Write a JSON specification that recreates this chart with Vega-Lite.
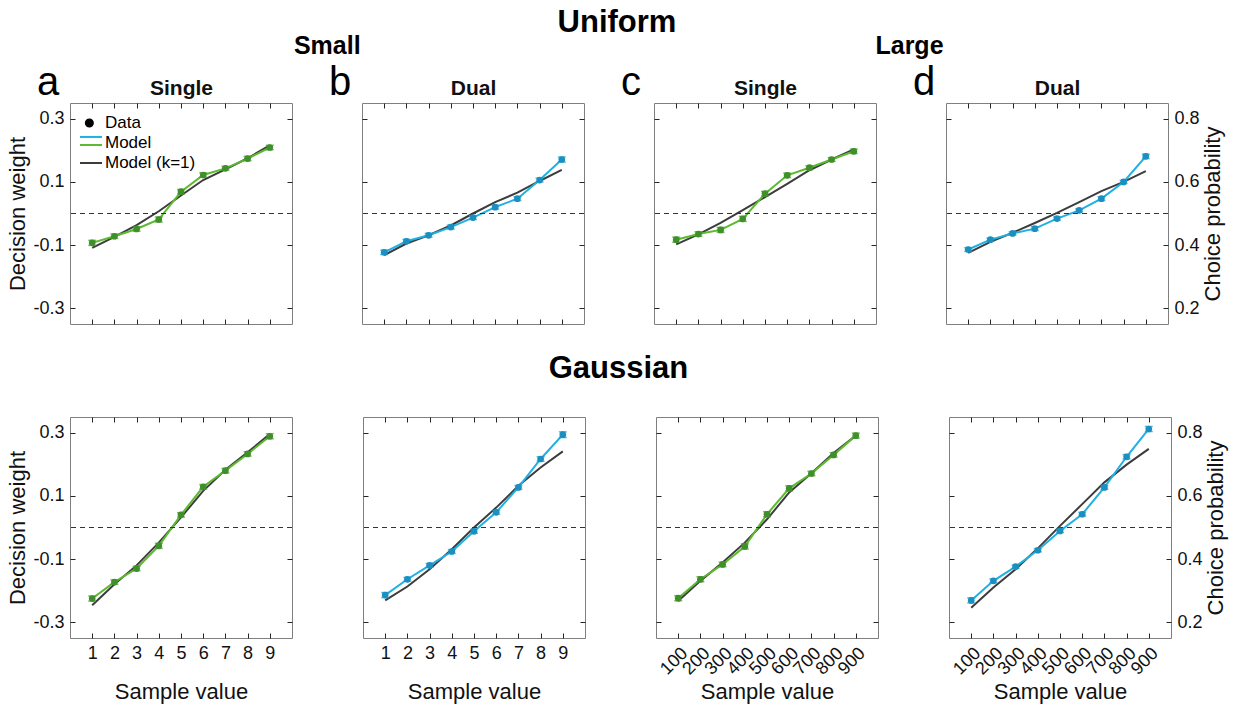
{
"$schema": "https://vega.github.io/schema/vega-lite/v6.json",
"padding": {"left": 6, "top": 7, "right": 5, "bottom": 5},
"background": "white",
"data": {"values": [
{"p":"a","x":1,"w":-0.093,"se":0.008,"k":-0.109},
{"p":"a","x":2,"w":-0.072,"se":0.007,"k":-0.074},
{"p":"a","x":3,"w":-0.049,"se":0.007,"k":-0.037},
{"p":"a","x":4,"w":-0.019,"se":0.008,"k":0.007},
{"p":"a","x":5,"w":0.069,"se":0.007,"k":0.057},
{"p":"a","x":6,"w":0.122,"se":0.007,"k":0.106},
{"p":"a","x":7,"w":0.143,"se":0.006,"k":0.140},
{"p":"a","x":8,"w":0.174,"se":0.007,"k":0.175},
{"p":"a","x":9,"w":0.209,"se":0.007,"k":0.216},
{"p":"b","x":1,"w":-0.123,"se":0.007,"k":-0.132},
{"p":"b","x":2,"w":-0.088,"se":0.006,"k":-0.095},
{"p":"b","x":3,"w":-0.069,"se":0.006,"k":-0.069},
{"p":"b","x":4,"w":-0.043,"se":0.006,"k":-0.038},
{"p":"b","x":5,"w":-0.013,"se":0.006,"k":0.000},
{"p":"b","x":6,"w":0.020,"se":0.006,"k":0.036},
{"p":"b","x":7,"w":0.047,"se":0.006,"k":0.066},
{"p":"b","x":8,"w":0.106,"se":0.006,"k":0.103},
{"p":"b","x":9,"w":0.171,"se":0.008,"k":0.138},
{"p":"c","x":100,"w":-0.083,"se":0.008,"k":-0.098},
{"p":"c","x":200,"w":-0.065,"se":0.007,"k":-0.066},
{"p":"c","x":300,"w":-0.052,"se":0.008,"k":-0.030},
{"p":"c","x":400,"w":-0.017,"se":0.008,"k":0.011},
{"p":"c","x":500,"w":0.063,"se":0.007,"k":0.052},
{"p":"c","x":600,"w":0.121,"se":0.007,"k":0.094},
{"p":"c","x":700,"w":0.145,"se":0.006,"k":0.137},
{"p":"c","x":800,"w":0.171,"se":0.006,"k":0.171},
{"p":"c","x":900,"w":0.197,"se":0.007,"k":0.203},
{"p":"d","x":100,"w":-0.114,"se":0.006,"k":-0.125},
{"p":"d","x":200,"w":-0.083,"se":0.005,"k":-0.090},
{"p":"d","x":300,"w":-0.063,"se":0.005,"k":-0.061},
{"p":"d","x":400,"w":-0.048,"se":0.006,"k":-0.030},
{"p":"d","x":500,"w":-0.016,"se":0.005,"k":0.002},
{"p":"d","x":600,"w":0.010,"se":0.005,"k":0.036},
{"p":"d","x":700,"w":0.047,"se":0.006,"k":0.071},
{"p":"d","x":800,"w":0.100,"se":0.005,"k":0.100},
{"p":"d","x":900,"w":0.181,"se":0.007,"k":0.134},
{"p":"e","x":1,"w":-0.225,"se":0.008,"k":-0.246},
{"p":"e","x":2,"w":-0.173,"se":0.007,"k":-0.180},
{"p":"e","x":3,"w":-0.130,"se":0.007,"k":-0.120},
{"p":"e","x":4,"w":-0.058,"se":0.008,"k":-0.048},
{"p":"e","x":5,"w":0.040,"se":0.007,"k":0.032},
{"p":"e","x":6,"w":0.129,"se":0.007,"k":0.116},
{"p":"e","x":7,"w":0.180,"se":0.007,"k":0.183},
{"p":"e","x":8,"w":0.233,"se":0.007,"k":0.238},
{"p":"e","x":9,"w":0.289,"se":0.008,"k":0.296},
{"p":"f","x":1,"w":-0.214,"se":0.008,"k":-0.231},
{"p":"f","x":2,"w":-0.164,"se":0.006,"k":-0.187},
{"p":"f","x":3,"w":-0.120,"se":0.006,"k":-0.132},
{"p":"f","x":4,"w":-0.076,"se":0.006,"k":-0.069},
{"p":"f","x":5,"w":-0.012,"se":0.006,"k":0.000},
{"p":"f","x":6,"w":0.048,"se":0.006,"k":0.063},
{"p":"f","x":7,"w":0.127,"se":0.006,"k":0.132},
{"p":"f","x":8,"w":0.217,"se":0.007,"k":0.190},
{"p":"f","x":9,"w":0.294,"se":0.009,"k":0.241},
{"p":"g","x":100,"w":-0.224,"se":0.008,"k":-0.233},
{"p":"g","x":200,"w":-0.164,"se":0.008,"k":-0.169},
{"p":"g","x":300,"w":-0.117,"se":0.007,"k":-0.111},
{"p":"g","x":400,"w":-0.060,"se":0.008,"k":-0.048},
{"p":"g","x":500,"w":0.042,"se":0.008,"k":0.026},
{"p":"g","x":600,"w":0.124,"se":0.008,"k":0.111},
{"p":"g","x":700,"w":0.171,"se":0.007,"k":0.172},
{"p":"g","x":800,"w":0.230,"se":0.007,"k":0.236},
{"p":"g","x":900,"w":0.291,"se":0.008,"k":0.291},
{"p":"h","x":100,"w":-0.231,"se":0.008,"k":-0.254},
{"p":"h","x":200,"w":-0.169,"se":0.006,"k":-0.190},
{"p":"h","x":300,"w":-0.124,"se":0.005,"k":-0.132},
{"p":"h","x":400,"w":-0.072,"se":0.005,"k":-0.066},
{"p":"h","x":500,"w":-0.011,"se":0.005,"k":0.005},
{"p":"h","x":600,"w":0.042,"se":0.006,"k":0.074},
{"p":"h","x":700,"w":0.127,"se":0.006,"k":0.143},
{"p":"h","x":800,"w":0.224,"se":0.007,"k":0.199},
{"p":"h","x":900,"w":0.312,"se":0.008,"k":0.249}
]},
"config": {
  "font": "Liberation Sans",
  "view": {"stroke": "#7f7f7f", "strokeWidth": 1},
  "axis": {"grid": false, "domain": false, "tickColor": "#262626", "tickSize": -5, "tickWidth": 1, "labelFont": "Liberation Sans", "labelFontSize": 18, "labelColor": "#111111", "labelPadding": 11, "labelOverlap": false, "titleFont": "Liberation Sans", "titleFontSize": 22, "titleFontWeight": "normal", "titleColor": "#111111", "titlePadding": 3},
  "axisBottom": {"labelPadding": 11},
  "title": {"font": "Liberation Sans", "color": "#000000"}
},
"spacing": 27,
"resolve": {"legend": {"fill": "independent", "stroke": "independent", "shape": "independent", "strokeDash": "independent"}},
"vconcat": [
{
 "title": {"text": "Uniform", "fontSize": 31, "fontWeight": "bold", "anchor": "middle", "frame": "bounds", "offset": -5, "dx": 2},
 "spacing": 35,
 "resolve": {"legend": {"fill": "independent", "stroke": "independent", "shape": "independent", "strokeDash": "independent"}},
 "hconcat": [
 {
  "title": {"text": "Small", "fontSize": 25, "fontWeight": "bold", "anchor": "middle", "frame": "bounds", "offset": 3, "dx": 31.5},
  "spacing": 35,
  "resolve": {"legend": {"fill": "independent", "stroke": "independent", "shape": "independent", "strokeDash": "independent"}},
  "hconcat": [
  {
   "width": 222, "height": 221,
   "title": {"text": "a", "fontSize": 40, "fontWeight": "normal", "anchor": "start", "frame": "group", "dx": -33, "dy": 25, "offset": 0},
   "transform": [{"filter": "datum.p === 'a'"}],
   "layer": [
    {"mark": {"type": "line", "color": "#3c3c3c", "strokeWidth": 2},
     "encoding": {
      "x": {"field": "x", "type": "quantitative", "scale": {"domain": [0, 10], "nice": false}, "axis": {"orient": "bottom", "values": [1,2,3,4,5,6,7,8,9], "labels": false, "title": null}},
      "y": {"field": "k", "type": "quantitative", "scale": {"domain": [-0.35, 0.35], "nice": false}, "axis": {"orient": "left", "values": [-0.3,-0.1,0.1,0.3], "labelExpr": "datum.value < 0 ? '-' + format(-datum.value, '.1f') : format(datum.value, '.1f')", "title": "Decision weight"}}}},
    {"mark": {"type": "line", "color": "#5bba2e", "strokeWidth": 2},
     "encoding": {
      "x": {"field": "x", "type": "quantitative", "axis": {"orient": "top", "values": [1,2,3,4,5,6,7,8,9], "labels": false, "title": "Single", "titleFontWeight": "bold", "titleFontSize": 21, "titlePadding": 4}},
      "y": {"field": "w", "type": "quantitative", "axis": {"orient": "right", "values": [-0.3,-0.1,0.1,0.3], "labels": false, "title": null}}}},
    {"mark": {"type": "rule", "color": "#333333", "strokeDash": [5, 4], "strokeWidth": 1}, "encoding": {"y": {"datum": 0, "type": "quantitative", "axis": null}}},
    {"mark": {"type": "errorbar", "color": "#45a02a", "ticks": {"size": 8}, "thickness": 1.5},
     "encoding": {"x": {"field": "x", "type": "quantitative", "axis": null}, "y": {"field": "w", "type": "quantitative", "axis": null}, "yError": {"field": "se"}}},
    {"mark": {"type": "point", "filled": true, "size": 45, "color": "#3f8f2a", "opacity": 1},
     "encoding": {"x": {"field": "x", "type": "quantitative", "axis": null}, "y": {"field": "w", "type": "quantitative", "axis": null}}},
    {"data": {"values": [{"item": "Data"}, {"item": "Model"}, {"item": "Model (k=1)"}]},
     "mark": {"type": "point", "filled": true, "opacity": 0},
     "encoding": {
      "fill": {"field": "item", "type": "nominal", "scale": {"domain": ["Data", "Model", "Model (k=1)"], "range": ["#000000", "#1fb1e3", "#3c3c3c"]},
        "legend": {"title": null, "orient": "none", "legendX": 9, "legendY": 8, "symbolOpacity": 1, "symbolSize": 484, "symbolStrokeWidth": 2, "labelFont": "Liberation Sans", "labelFontSize": 17, "labelColor": "#000000", "labelOffset": 2, "rowPadding": 0, "padding": 0}},
      "stroke": {"field": "item", "type": "nominal", "scale": {"domain": ["Data", "Model", "Model (k=1)"], "range": ["#000000", "#1fb1e3", "#3c3c3c"]},
        "legend": {"title": null, "orient": "none", "legendX": 9, "legendY": 8, "symbolOpacity": 1, "symbolSize": 484, "symbolStrokeWidth": 2, "labelFont": "Liberation Sans", "labelFontSize": 17, "labelColor": "#000000", "labelOffset": 2, "rowPadding": 0, "padding": 0}},
      "shape": {"field": "item", "type": "nominal", "scale": {"domain": ["Data", "Model", "Model (k=1)"], "range": ["M-0.47,0A0.32,0.32 0 1,0 0.17,0A0.32,0.32 0 1,0 -0.47,0Z", "M-1,-0.55H1", "M-1,0H1"]},
        "legend": {"title": null, "orient": "none", "legendX": 9, "legendY": 8, "symbolOpacity": 1, "symbolSize": 484, "symbolStrokeWidth": 2, "labelFont": "Liberation Sans", "labelFontSize": 17, "labelColor": "#000000", "labelOffset": 2, "rowPadding": 0, "padding": 0}}}},
    {"data": {"values": [{"item2": "Model"}]},
     "mark": {"type": "line", "color": "#5bba2e", "opacity": 0},
     "encoding": {
      "strokeDash": {"field": "item2", "type": "nominal", "scale": {"domain": ["Model"], "range": [[1, 0]]},
        "legend": {"title": null, "orient": "none", "legendX": 9, "legendY": 30, "symbolOpacity": 1, "symbolSize": 484, "symbolStrokeWidth": 2, "symbolType": "M-1,0H1", "labelFont": "Liberation Sans", "labelFontSize": 17, "labelOpacity": 0, "labelOffset": 2, "rowPadding": 0, "padding": 0}}}}
   ],
   "resolve": {"axis": {"x": "independent", "y": "independent"}}
  },
  {
   "width": 222, "height": 221,
   "title": {"text": "b", "fontSize": 40, "fontWeight": "normal", "anchor": "start", "frame": "group", "dx": -33, "dy": 25, "offset": 0},
   "transform": [{"filter": "datum.p === 'b'"}],
   "layer": [
    {"mark": {"type": "line", "color": "#3c3c3c", "strokeWidth": 2},
     "encoding": {
      "x": {"field": "x", "type": "quantitative", "scale": {"domain": [0, 10], "nice": false}, "axis": {"orient": "bottom", "values": [1,2,3,4,5,6,7,8,9], "labels": false, "title": null}},
      "y": {"field": "k", "type": "quantitative", "scale": {"domain": [-0.35, 0.35], "nice": false}, "axis": {"orient": "left", "values": [-0.3,-0.1,0.1,0.3], "labels": false, "title": null}}}},
    {"mark": {"type": "line", "color": "#1fb1e3", "strokeWidth": 2},
     "encoding": {
      "x": {"field": "x", "type": "quantitative", "axis": {"orient": "top", "values": [1,2,3,4,5,6,7,8,9], "labels": false, "title": "Dual", "titleFontWeight": "bold", "titleFontSize": 21, "titlePadding": 4}},
      "y": {"field": "w", "type": "quantitative", "axis": {"orient": "right", "values": [-0.3,-0.1,0.1,0.3], "labels": false, "title": null}}}},
    {"mark": {"type": "rule", "color": "#333333", "strokeDash": [5, 4], "strokeWidth": 1}, "encoding": {"y": {"datum": 0, "type": "quantitative", "axis": null}}},
    {"mark": {"type": "errorbar", "color": "#1a9fd0", "ticks": {"size": 8}, "thickness": 1.5},
     "encoding": {"x": {"field": "x", "type": "quantitative", "axis": null}, "y": {"field": "w", "type": "quantitative", "axis": null}, "yError": {"field": "se"}}},
    {"mark": {"type": "point", "filled": true, "size": 45, "color": "#1a8fc0", "opacity": 1},
     "encoding": {"x": {"field": "x", "type": "quantitative", "axis": null}, "y": {"field": "w", "type": "quantitative", "axis": null}}}
   ],
   "resolve": {"axis": {"x": "independent", "y": "independent"}}
  }
  ]
 },
 {
  "title": {"text": "Large", "fontSize": 25, "fontWeight": "bold", "anchor": "middle", "frame": "bounds", "offset": 3, "dx": -12.5},
  "spacing": 35,
  "hconcat": [
  {
   "width": 222, "height": 221,
   "title": {"text": "c", "fontSize": 40, "fontWeight": "normal", "anchor": "start", "frame": "group", "dx": -33, "dy": 25, "offset": 0},
   "transform": [{"filter": "datum.p === 'c'"}],
   "layer": [
    {"mark": {"type": "line", "color": "#3c3c3c", "strokeWidth": 2},
     "encoding": {
      "x": {"field": "x", "type": "quantitative", "scale": {"domain": [0, 1000], "nice": false}, "axis": {"orient": "bottom", "values": [100,200,300,400,500,600,700,800,900], "labels": false, "title": null}},
      "y": {"field": "k", "type": "quantitative", "scale": {"domain": [-0.35, 0.35], "nice": false}, "axis": {"orient": "left", "values": [-0.3,-0.1,0.1,0.3], "labels": false, "title": null}}}},
    {"mark": {"type": "line", "color": "#5bba2e", "strokeWidth": 2},
     "encoding": {
      "x": {"field": "x", "type": "quantitative", "axis": {"orient": "top", "values": [100,200,300,400,500,600,700,800,900], "labels": false, "title": "Single", "titleFontWeight": "bold", "titleFontSize": 21, "titlePadding": 4}},
      "y": {"field": "w", "type": "quantitative", "axis": {"orient": "right", "values": [-0.3,-0.1,0.1,0.3], "labels": false, "title": null}}}},
    {"mark": {"type": "rule", "color": "#333333", "strokeDash": [5, 4], "strokeWidth": 1}, "encoding": {"y": {"datum": 0, "type": "quantitative", "axis": null}}},
    {"mark": {"type": "errorbar", "color": "#45a02a", "ticks": {"size": 8}, "thickness": 1.5},
     "encoding": {"x": {"field": "x", "type": "quantitative", "axis": null}, "y": {"field": "w", "type": "quantitative", "axis": null}, "yError": {"field": "se"}}},
    {"mark": {"type": "point", "filled": true, "size": 45, "color": "#3f8f2a", "opacity": 1},
     "encoding": {"x": {"field": "x", "type": "quantitative", "axis": null}, "y": {"field": "w", "type": "quantitative", "axis": null}}}
   ],
   "resolve": {"axis": {"x": "independent", "y": "independent"}}
  },
  {
   "width": 222, "height": 221,
   "title": {"text": "d", "fontSize": 40, "fontWeight": "normal", "anchor": "start", "frame": "group", "dx": -33, "dy": 25, "offset": 0},
   "transform": [{"filter": "datum.p === 'd'"}],
   "layer": [
    {"mark": {"type": "line", "color": "#3c3c3c", "strokeWidth": 2},
     "encoding": {
      "x": {"field": "x", "type": "quantitative", "scale": {"domain": [0, 1000], "nice": false}, "axis": {"orient": "bottom", "values": [100,200,300,400,500,600,700,800,900], "labels": false, "title": null}},
      "y": {"field": "k", "type": "quantitative", "scale": {"domain": [-0.35, 0.35], "nice": false}, "axis": {"orient": "left", "values": [-0.3,-0.1,0.1,0.3], "labels": false, "title": null}}}},
    {"mark": {"type": "line", "color": "#1fb1e3", "strokeWidth": 2},
     "encoding": {
      "x": {"field": "x", "type": "quantitative", "axis": {"orient": "top", "values": [100,200,300,400,500,600,700,800,900], "labels": false, "title": "Dual", "titleFontWeight": "bold", "titleFontSize": 21, "titlePadding": 4}},
      "y": {"field": "w", "type": "quantitative", "axis": {"orient": "right", "values": [-0.3,-0.1,0.1,0.3], "labelExpr": "format(datum.value + 0.5, '.1f')", "title": "Choice probability", "titleAngle": 270, "titleBaseline": "top"}}}},
    {"mark": {"type": "rule", "color": "#333333", "strokeDash": [5, 4], "strokeWidth": 1}, "encoding": {"y": {"datum": 0, "type": "quantitative", "axis": null}}},
    {"mark": {"type": "errorbar", "color": "#1a9fd0", "ticks": {"size": 8}, "thickness": 1.5},
     "encoding": {"x": {"field": "x", "type": "quantitative", "axis": null}, "y": {"field": "w", "type": "quantitative", "axis": null}, "yError": {"field": "se"}}},
    {"mark": {"type": "point", "filled": true, "size": 45, "color": "#1a8fc0", "opacity": 1},
     "encoding": {"x": {"field": "x", "type": "quantitative", "axis": null}, "y": {"field": "w", "type": "quantitative", "axis": null}}}
   ],
   "resolve": {"axis": {"x": "independent", "y": "independent"}}
  }
  ]
 }
 ]
},
{
 "title": {"text": "Gaussian", "fontSize": 31, "fontWeight": "bold", "anchor": "middle", "frame": "bounds", "offset": 31.5, "dx": 2},
 "spacing": 69,
 "hconcat": [
  {
   "width": 222, "height": 221,
   "transform": [{"filter": "datum.p === 'e'"}],
   "layer": [
    {"mark": {"type": "line", "color": "#3c3c3c", "strokeWidth": 2},
     "encoding": {
      "x": {"field": "x", "type": "quantitative", "scale": {"domain": [0, 10], "nice": false}, "axis": {"orient": "bottom", "values": [1,2,3,4,5,6,7,8,9], "title": "Sample value", "titlePadding": 19}},
      "y": {"field": "k", "type": "quantitative", "scale": {"domain": [-0.35, 0.35], "nice": false}, "axis": {"orient": "left", "values": [-0.3,-0.1,0.1,0.3], "labelExpr": "datum.value < 0 ? '-' + format(-datum.value, '.1f') : format(datum.value, '.1f')", "title": "Decision weight"}}}},
    {"mark": {"type": "line", "color": "#5bba2e", "strokeWidth": 2},
     "encoding": {
      "x": {"field": "x", "type": "quantitative", "axis": {"orient": "top", "values": [1,2,3,4,5,6,7,8,9], "labels": false, "title": null}},
      "y": {"field": "w", "type": "quantitative", "axis": {"orient": "right", "values": [-0.3,-0.1,0.1,0.3], "labels": false, "title": null}}}},
    {"mark": {"type": "rule", "color": "#333333", "strokeDash": [5, 4], "strokeWidth": 1}, "encoding": {"y": {"datum": 0, "type": "quantitative", "axis": null}}},
    {"mark": {"type": "errorbar", "color": "#45a02a", "ticks": {"size": 8}, "thickness": 1.5},
     "encoding": {"x": {"field": "x", "type": "quantitative", "axis": null}, "y": {"field": "w", "type": "quantitative", "axis": null}, "yError": {"field": "se"}}},
    {"mark": {"type": "point", "filled": true, "size": 45, "color": "#3f8f2a", "opacity": 1},
     "encoding": {"x": {"field": "x", "type": "quantitative", "axis": null}, "y": {"field": "w", "type": "quantitative", "axis": null}}}
   ],
   "resolve": {"axis": {"x": "independent", "y": "independent"}}
  },
  {
   "width": 222, "height": 221,
   "transform": [{"filter": "datum.p === 'f'"}],
   "layer": [
    {"mark": {"type": "line", "color": "#3c3c3c", "strokeWidth": 2},
     "encoding": {
      "x": {"field": "x", "type": "quantitative", "scale": {"domain": [0, 10], "nice": false}, "axis": {"orient": "bottom", "values": [1,2,3,4,5,6,7,8,9], "title": "Sample value", "titlePadding": 19}},
      "y": {"field": "k", "type": "quantitative", "scale": {"domain": [-0.35, 0.35], "nice": false}, "axis": {"orient": "left", "values": [-0.3,-0.1,0.1,0.3], "labels": false, "title": null}}}},
    {"mark": {"type": "line", "color": "#1fb1e3", "strokeWidth": 2},
     "encoding": {
      "x": {"field": "x", "type": "quantitative", "axis": {"orient": "top", "values": [1,2,3,4,5,6,7,8,9], "labels": false, "title": null}},
      "y": {"field": "w", "type": "quantitative", "axis": {"orient": "right", "values": [-0.3,-0.1,0.1,0.3], "labels": false, "title": null}}}},
    {"mark": {"type": "rule", "color": "#333333", "strokeDash": [5, 4], "strokeWidth": 1}, "encoding": {"y": {"datum": 0, "type": "quantitative", "axis": null}}},
    {"mark": {"type": "errorbar", "color": "#1a9fd0", "ticks": {"size": 8}, "thickness": 1.5},
     "encoding": {"x": {"field": "x", "type": "quantitative", "axis": null}, "y": {"field": "w", "type": "quantitative", "axis": null}, "yError": {"field": "se"}}},
    {"mark": {"type": "point", "filled": true, "size": 45, "color": "#1a8fc0", "opacity": 1},
     "encoding": {"x": {"field": "x", "type": "quantitative", "axis": null}, "y": {"field": "w", "type": "quantitative", "axis": null}}}
   ],
   "resolve": {"axis": {"x": "independent", "y": "independent"}}
  },
  {
   "width": 222, "height": 221,
   "transform": [{"filter": "datum.p === 'g'"}],
   "layer": [
    {"mark": {"type": "line", "color": "#3c3c3c", "strokeWidth": 2},
     "encoding": {
      "x": {"field": "x", "type": "quantitative", "scale": {"domain": [0, 1000], "nice": false}, "axis": {"orient": "bottom", "values": [100,200,300,400,500,600,700,800,900], "labelAngle": -45, "title": "Sample value", "titlePadding": 4}},
      "y": {"field": "k", "type": "quantitative", "scale": {"domain": [-0.35, 0.35], "nice": false}, "axis": {"orient": "left", "values": [-0.3,-0.1,0.1,0.3], "labels": false, "title": null}}}},
    {"mark": {"type": "line", "color": "#5bba2e", "strokeWidth": 2},
     "encoding": {
      "x": {"field": "x", "type": "quantitative", "axis": {"orient": "top", "values": [100,200,300,400,500,600,700,800,900], "labels": false, "title": null}},
      "y": {"field": "w", "type": "quantitative", "axis": {"orient": "right", "values": [-0.3,-0.1,0.1,0.3], "labels": false, "title": null}}}},
    {"mark": {"type": "rule", "color": "#333333", "strokeDash": [5, 4], "strokeWidth": 1}, "encoding": {"y": {"datum": 0, "type": "quantitative", "axis": null}}},
    {"mark": {"type": "errorbar", "color": "#45a02a", "ticks": {"size": 8}, "thickness": 1.5},
     "encoding": {"x": {"field": "x", "type": "quantitative", "axis": null}, "y": {"field": "w", "type": "quantitative", "axis": null}, "yError": {"field": "se"}}},
    {"mark": {"type": "point", "filled": true, "size": 45, "color": "#3f8f2a", "opacity": 1},
     "encoding": {"x": {"field": "x", "type": "quantitative", "axis": null}, "y": {"field": "w", "type": "quantitative", "axis": null}}}
   ],
   "resolve": {"axis": {"x": "independent", "y": "independent"}}
  },
  {
   "width": 222, "height": 221,
   "transform": [{"filter": "datum.p === 'h'"}],
   "layer": [
    {"mark": {"type": "line", "color": "#3c3c3c", "strokeWidth": 2},
     "encoding": {
      "x": {"field": "x", "type": "quantitative", "scale": {"domain": [0, 1000], "nice": false}, "axis": {"orient": "bottom", "values": [100,200,300,400,500,600,700,800,900], "labelAngle": -45, "title": "Sample value", "titlePadding": 4}},
      "y": {"field": "k", "type": "quantitative", "scale": {"domain": [-0.35, 0.35], "nice": false}, "axis": {"orient": "left", "values": [-0.3,-0.1,0.1,0.3], "labels": false, "title": null}}}},
    {"mark": {"type": "line", "color": "#1fb1e3", "strokeWidth": 2},
     "encoding": {
      "x": {"field": "x", "type": "quantitative", "axis": {"orient": "top", "values": [100,200,300,400,500,600,700,800,900], "labels": false, "title": null}},
      "y": {"field": "w", "type": "quantitative", "axis": {"orient": "right", "values": [-0.3,-0.1,0.1,0.3], "labelExpr": "format(datum.value + 0.5, '.1f')", "title": "Choice probability", "titleAngle": 270, "titleBaseline": "top"}}}},
    {"mark": {"type": "rule", "color": "#333333", "strokeDash": [5, 4], "strokeWidth": 1}, "encoding": {"y": {"datum": 0, "type": "quantitative", "axis": null}}},
    {"mark": {"type": "errorbar", "color": "#1a9fd0", "ticks": {"size": 8}, "thickness": 1.5},
     "encoding": {"x": {"field": "x", "type": "quantitative", "axis": null}, "y": {"field": "w", "type": "quantitative", "axis": null}, "yError": {"field": "se"}}},
    {"mark": {"type": "point", "filled": true, "size": 45, "color": "#1a8fc0", "opacity": 1},
     "encoding": {"x": {"field": "x", "type": "quantitative", "axis": null}, "y": {"field": "w", "type": "quantitative", "axis": null}}}
   ],
   "resolve": {"axis": {"x": "independent", "y": "independent"}}
  }
 ]
}
]
}
